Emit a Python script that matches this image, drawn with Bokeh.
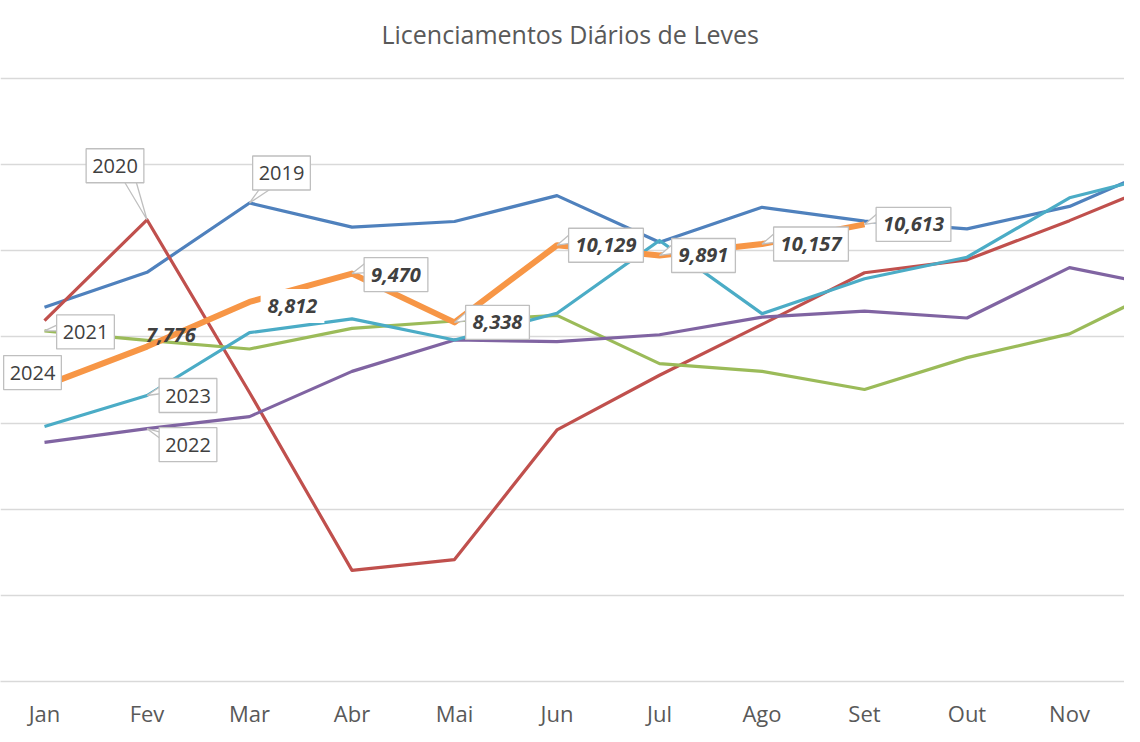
from bokeh.plotting import figure
from bokeh.models import Range1d, FixedTicker
from bokeh.core.properties import value
from bokeh.embed import file_html
from bokeh.resources import INLINE

# ---------------- data ----------------
months = ["Jan", "Fev", "Mar", "Abr", "Mai", "Jun", "Jul", "Ago", "Set", "Out", "Nov", "Dez"]
series_names = ["2019", "2020", "2021", "2022", "2023", "2024"]
v2019 = [8690, 9500, 11110, 10550, 10680, 11280, 10200, 11010, 10690, 10510, 11030, 12060]
v2020 = [8380, 10720, 6710, 2580, 2830, 5840, 7110, 8290, 9490, 9790, 10700, 11680]
v2021 = [8140, 7920, 7720, 8200, 8370, 8500, 7380, 7200, 6780, 7520, 8070, 9240]
v2022 = [5550, 5870, 6150, 7200, 7930, 7890, 8050, 8460, 8600, 8440, 9610, 9130]
v2023 = [5920, 6640, 8100, 8420, 7930, 8550, 10240, 8540, 9350, 9850, 11230, 11830]
v2024 = [6870, 7776, 8812, 9470, 8338, 10129, 9891, 10157, 10613]
grid_values = [2000, 4000, 6000, 8000, 10000, 12000, 14000]
title_text = "Licenciamentos Diários de Leves"

series = [v2019, v2020, v2021, v2022, v2023, v2024]

# ---------------- styles / layout ----------------
colors = ["#4F81BD", "#C0504D", "#9BBB59", "#8064A2", "#4BACC6", "#F79646"]
widths = [3.2, 3.2, 3.2, 3.2, 3.2, 6]
FONT = "Open Sans"
W, H = 1124, 731
TOP, BOTTOM = 58, 50
FW, FH = W, H - TOP - BOTTOM
SLOT = 102.5                       # px between months
X0 = -44 / SLOT
X1 = X0 + FW / SLOT
Y1 = grid_values[-1] * FH / 603.0  # top gridline 603 px above the bottom
ppx = FW / (X1 - X0)
ppy = FH / Y1

p = figure(width=W, height=H, x_range=Range1d(X0, X1), y_range=Range1d(0, Y1),
           output_backend="svg", toolbar_location=None,
           min_border_left=0, min_border_right=0,
           min_border_top=TOP, min_border_bottom=BOTTOM,
           outline_line_color=None, background_fill_color="white",
           border_fill_color="white")

p.title.text = title_text
p.title.align = "left"
p.title.offset = 381
p.title.standoff = 15
p.title.text_font = FONT
p.title.text_font_size = "25px"
p.title.text_font_style = "normal"
p.title.text_color = "#595959"

p.yaxis.visible = False
p.xgrid.visible = False
p.ygrid.ticker = FixedTicker(ticks=grid_values)
p.ygrid.grid_line_color = "#D9D9D9"
p.ygrid.grid_line_width = 1.3

p.xaxis.ticker = FixedTicker(ticks=list(range(len(months))))
p.xaxis.major_label_overrides = {i: m for i, m in enumerate(months)}
p.xaxis.major_tick_line_color = None
p.xaxis.minor_tick_line_color = None
p.xaxis.major_tick_out = 0
p.xaxis.major_tick_in = 0
p.xaxis.minor_tick_out = 0
p.xaxis.minor_tick_in = 0
p.xaxis.axis_line_color = "#D9D9D9"
p.xaxis.axis_line_width = 1.3
p.xaxis.major_label_text_font = FONT
p.xaxis.major_label_text_font_size = "22px"
p.xaxis.major_label_text_color = "#595959"
p.xaxis.major_label_standoff = 16

for ys, c, w in zip(series, colors, widths):
    p.line(x=list(range(len(ys))), y=ys, line_color=c, line_width=w, line_join="round")


def to_data(xi, v, dx, dy):
    return xi + dx / ppx, v - dy / ppy


# series-name callouts: (series index, month index, dx, dy, tail base offsets)
name_callouts = [
    (0, 2, 32, -30, [(-19, 12), (-5, 12)]),
    (1, 1, -32, -54, [(7, 12), (20, 12)]),
    (2, 0, 41, 1, [(-26, -8), (-26, -1)]),
    (5, 0, -12, -13, None),
    (4, 1, 41, 0, [(-26, -10), (-26, -2)]),
    (3, 1, 41, 16, [(-26, -12), (-26, -5)]),
]
# value callouts for 2024: month index -> (dx, dy, style)
value_callouts = {1: (24, -12, "none"), 2: (43, 4, "fill"), 3: (44, 1, "box"),
                  4: (43, 0, "box"), 5: (49, 0, "box"), 6: (44, 0, "box"),
                  7: (49, 0, "box"), 8: (49, 0, "box")}

tail_xs, tail_ys = [], []
nx, ny, nt = [], [], []
for si, mi, dx, dy, tail in name_callouts:
    v = series[si][mi]
    cx, cy = to_data(mi, v, dx, dy)
    nx.append(cx); ny.append(cy); nt.append(series_names[si])
    if tail:
        xs = [mi]; yy = [v]
        for bx, by in tail:
            tx, ty = to_data(mi, v, dx + bx, dy + by)
            xs.append(tx); yy.append(ty)
        tail_xs.append(xs); tail_ys.append(yy)

bx_, by_, bt_ = [], [], []
fx_, fy_, ft_ = [], [], []
px_, py_, pt_ = [], [], []
for mi, (dx, dy, style) in value_callouts.items():
    v = v2024[mi]
    cx, cy = to_data(mi, v, dx, dy)
    label = f"{v:,}"
    if style == "box":
        bx_.append(cx); by_.append(cy); bt_.append(label)
        xs = [mi]; yy = [v]
        for bx, by in [(14 - dx, -12), (14 - dx, -2)]:
            tx, ty = to_data(mi, v, dx + bx, dy + by)
            xs.append(tx); yy.append(ty)
        tail_xs.append(xs); tail_ys.append(yy)
    elif style == "fill":
        fx_.append(cx); fy_.append(cy); ft_.append(label)
    else:
        px_.append(cx); py_.append(cy); pt_.append(label)

p.patches(tail_xs, tail_ys, fill_color="white", line_color="#BFBFBF", line_width=1.3)

common = dict(text_align="center", text_baseline="middle", text_font=value(FONT),
              text_font_size="20px", text_color="#404040")
pad_n = dict(left=6, right=6, top=10, bottom=10)
pad_v = dict(left=7, right=7, top=10, bottom=10)

p.text(x=nx, y=ny, text=nt, background_fill_color="white",
       border_line_color="#BFBFBF", border_line_width=1.3, padding=pad_n, **common)
p.text(x=bx_, y=by_, text=bt_, text_font_style="bold italic", background_fill_color="white",
       border_line_color="#BFBFBF", border_line_width=1.3, padding=pad_v, **common)
p.text(x=fx_, y=fy_, text=ft_, text_font_style="bold italic", background_fill_color="white",
       padding=pad_v, **common)
p.text(x=px_, y=py_, text=pt_, text_font_style="bold italic", **common)

open("out.html", "w").write(file_html(p, INLINE))
